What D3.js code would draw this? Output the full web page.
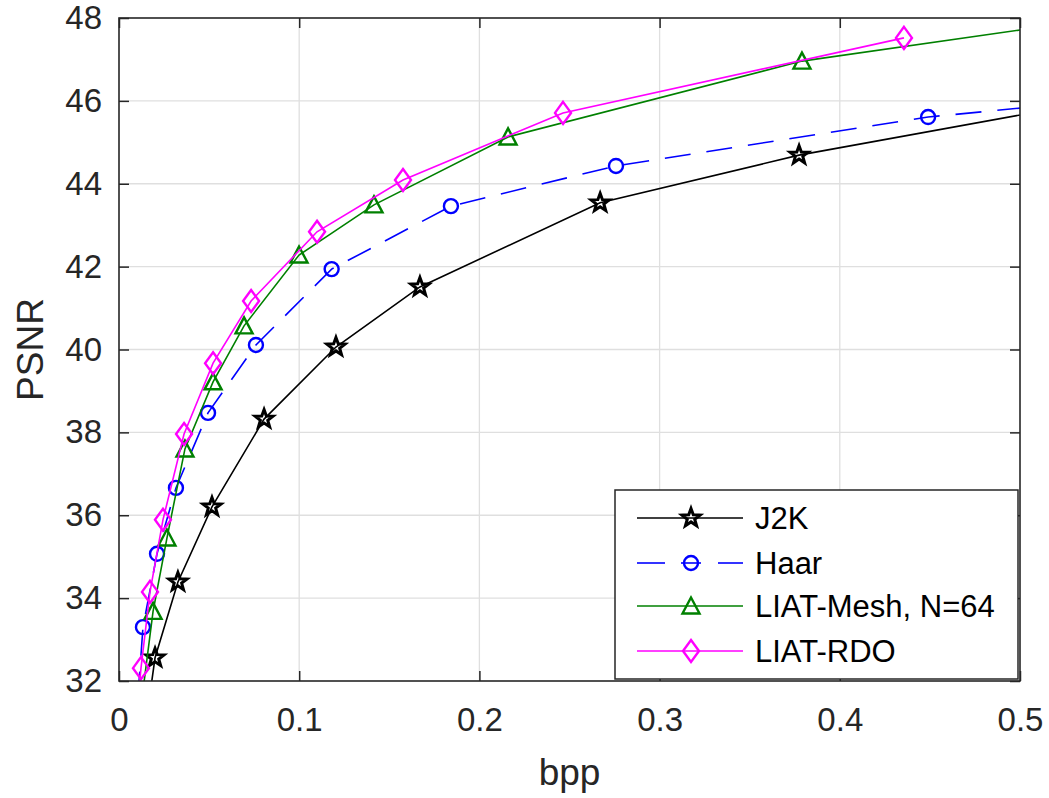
<!DOCTYPE html>
<html>
<head>
<meta charset="utf-8">
<script src="https://cdn.jsdelivr.net/npm/d3@7"></script>
<style>
  body { margin: 0; background: #fff; }
  svg { display: block; }
</style>
</head>
<body>
<svg width="1049" height="798"></svg>
<script>
// valores
const j2kBpp  = [0.015, 0.020, 0.0327, 0.0516, 0.0805, 0.1204, 0.167, 0.267, 0.3774, 0.6];
const j2kPsnr = [31.0, 32.56, 34.39, 36.20, 38.32, 40.06, 41.51, 43.54, 44.69, 46.45];

const haarBpp  = [0.0105, 0.0133, 0.0211, 0.0316, 0.0494, 0.076, 0.118, 0.1842, 0.2758, 0.449, 0.6];
const haarPsnr = [31.6, 33.30, 35.07, 36.66, 38.47, 40.11, 41.94, 43.46, 44.43, 45.61, 46.25];

const meshBpp  = [0.0125, 0.0189, 0.0266, 0.0366, 0.0522, 0.0694, 0.0999, 0.1415, 0.2159, 0.379, 0.6];
const meshPsnr = [31.5, 33.68, 35.45, 37.60, 39.22, 40.57, 42.28, 43.49, 45.13, 46.96, 48.33];

const rdoBpp  = [0.0105, 0.0122, 0.0172, 0.0244, 0.0361, 0.0522, 0.0733, 0.1099, 0.1576, 0.2464, 0.4356];
const rdoPsnr = [31.5, 32.31, 34.15, 35.89, 37.96, 39.67, 41.17, 42.84, 44.09, 45.71, 47.52];

const xTicks = [0, 0.1, 0.2, 0.3, 0.4, 0.5];
const yTicks = [32, 34, 36, 38, 40, 42, 44, 46, 48];
const seriesNames = ["J2K", "Haar", "LIAT-Mesh, N=64", "LIAT-RDO"];

const series = [
  {name: seriesNames[0], x: j2kBpp,  y: j2kPsnr,  color: "#000000", dash: null,    marker: "star"},
  {name: seriesNames[1], x: haarBpp, y: haarPsnr, color: "#0000ff", dash: "26,16", marker: "circle"},
  {name: seriesNames[2], x: meshBpp, y: meshPsnr, color: "#008000", dash: null,    marker: "triangle"},
  {name: seriesNames[3], x: rdoBpp,  y: rdoPsnr,  color: "#ff00ff", dash: null,    marker: "diamond"}
];

const svg = d3.select("svg");
const margin = {top: 18, right: 29, bottom: 117, left: 119};
const width = +svg.attr("width") - margin.left - margin.right;
const height = +svg.attr("height") - margin.top - margin.bottom;
const axisColor = "#262626";
const font = "'Liberation Sans', Arial, sans-serif";

const g = svg.append("g")
  .attr("transform", `translate(${margin.left},${margin.top})`);

const xScale = d3.scaleLinear().domain([0, 0.5]).range([0, width]);
const yScale = d3.scaleLinear().domain([32, 48]).range([height, 0]);

// rejilla
g.append("g").selectAll("line")
  .data(xTicks.slice(1, -1))
  .join("line")
  .attr("x1", d => xScale(d)).attr("x2", d => xScale(d))
  .attr("y1", 0).attr("y2", height)
  .attr("stroke", "#dfdfdf").attr("stroke-width", 1.3);

g.append("g").selectAll("line")
  .data(yTicks.slice(1, -1))
  .join("line")
  .attr("y1", d => yScale(d)).attr("y2", d => yScale(d))
  .attr("x1", 0).attr("x2", width)
  .attr("stroke", "#dfdfdf").attr("stroke-width", 1.3);

// recorte
svg.append("defs").append("clipPath").attr("id", "clip")
  .append("rect").attr("width", width).attr("height", height);

// marcadores
function markerPath(type) {
  if (type === "circle") return d3.symbol(d3.symbolCircle, Math.PI * 7 * 7)();
  if (type === "star") {
    const pts = [];
    const R = 9.5, r = 3.9;
    for (let i = 0; i < 10; i++) {
      const a = -Math.PI / 2 + i * Math.PI / 5;
      const rr = i % 2 === 0 ? R : r;
      pts.push([rr * Math.cos(a), rr * Math.sin(a)]);
    }
    return "M" + pts.map(p => p.join(",")).join("L") + "Z";
  }
  if (type === "triangle") return "M0,-8.5L8.5,7.5L-8.5,7.5Z";
  if (type === "diamond") return "M0,-11L8,0L0,11L-8,0Z";
}

const plot = g.append("g").attr("clip-path", "url(#clip)");
const line = d3.line().x(d => xScale(d[0])).y(d => yScale(d[1]));

series.forEach(s => {
  const pts = s.x.map((v, i) => [v, s.y[i]]);
  plot.append("path")
    .datum(pts)
    .attr("d", line)
    .attr("fill", "none")
    .attr("stroke", s.color)
    .attr("stroke-width", 1.6)
    .attr("stroke-dasharray", s.dash);
  plot.append("g").selectAll("path")
    .data(pts)
    .join("path")
    .attr("transform", d => `translate(${xScale(d[0])},${yScale(d[1])})`)
    .attr("d", markerPath(s.marker))
    .attr("fill", "none")
    .attr("stroke", s.color)
    .attr("stroke-width", s.marker === "star" ? 3 : 2.4)
    .attr("stroke-linejoin", "miter");
});

// ejes
const xAxis = d3.axisBottom(xScale).tickValues(xTicks)
  .tickFormat(d => d === 0 ? "0" : d3.format(".1f")(d))
  .tickSizeInner(-10).tickSizeOuter(0).tickPadding(27);
const yAxis = d3.axisLeft(yScale).tickValues(yTicks)
  .tickFormat(d3.format("d"))
  .tickSizeInner(-10).tickSizeOuter(0).tickPadding(17);

function styleAxis(sel) {
  sel.select(".domain").remove();
  sel.selectAll("line").attr("stroke", axisColor).attr("stroke-width", 1.5);
  sel.selectAll("text").attr("fill", axisColor)
    .style("font-family", font).style("font-size", "33px");
}

g.append("g").attr("transform", `translate(0,${height})`).call(xAxis).call(styleAxis);
g.append("g").call(yAxis).call(styleAxis);

// marcas arriba y a la derecha
g.append("g").call(d3.axisTop(xScale).tickValues(xTicks).tickFormat("").tickSizeInner(-10).tickSizeOuter(0))
  .call(styleAxis);
g.append("g").attr("transform", `translate(${width},0)`)
  .call(d3.axisRight(yScale).tickValues(yTicks).tickFormat("").tickSizeInner(-10).tickSizeOuter(0))
  .call(styleAxis);

g.append("rect")
  .attr("width", width).attr("height", height)
  .attr("fill", "none").attr("stroke", axisColor).attr("stroke-width", 1.6);

// titulos de ejes
g.append("text")
  .attr("x", width / 2).attr("y", height + 104)
  .attr("text-anchor", "middle")
  .attr("fill", axisColor)
  .style("font-family", font).style("font-size", "37px")
  .text("bpp");

g.append("text")
  .attr("transform", `translate(${43 - margin.left},${height / 2}) rotate(-90)`)
  .attr("text-anchor", "middle")
  .attr("fill", axisColor)
  .style("font-family", font).style("font-size", "37px")
  .text("PSNR");

// leyenda
const legend = svg.append("g").attr("transform", "translate(615,490)");
legend.append("rect")
  .attr("width", 403).attr("height", 189)
  .attr("fill", "#fff").attr("stroke", axisColor).attr("stroke-width", 1.5);

const rowY = [28, 73, 116, 161];
series.forEach((s, i) => {
  const row = legend.append("g").attr("transform", `translate(0,${rowY[i]})`);
  if (s.dash) {
    row.append("line").attr("x1", 22).attr("x2", 50).attr("stroke", s.color).attr("stroke-width", 1.6);
    row.append("line").attr("x1", 66).attr("x2", 86).attr("stroke", s.color).attr("stroke-width", 1.6);
    row.append("line").attr("x1", 103).attr("x2", 128).attr("stroke", s.color).attr("stroke-width", 1.6);
  } else {
    row.append("line").attr("x1", 22).attr("x2", 128).attr("stroke", s.color).attr("stroke-width", 1.6);
  }
  row.append("path")
    .attr("transform", "translate(76,0)")
    .attr("d", markerPath(s.marker))
    .attr("fill", "none").attr("stroke", s.color)
    .attr("stroke-width", s.marker === "star" ? 3 : 2.4);
  row.append("text")
    .attr("x", 140).attr("dy", "0.36em")
    .attr("fill", "#000")
    .style("font-family", font).style("font-size", "31px")
    .text(s.name);
});
</script>
</body>
</html>
